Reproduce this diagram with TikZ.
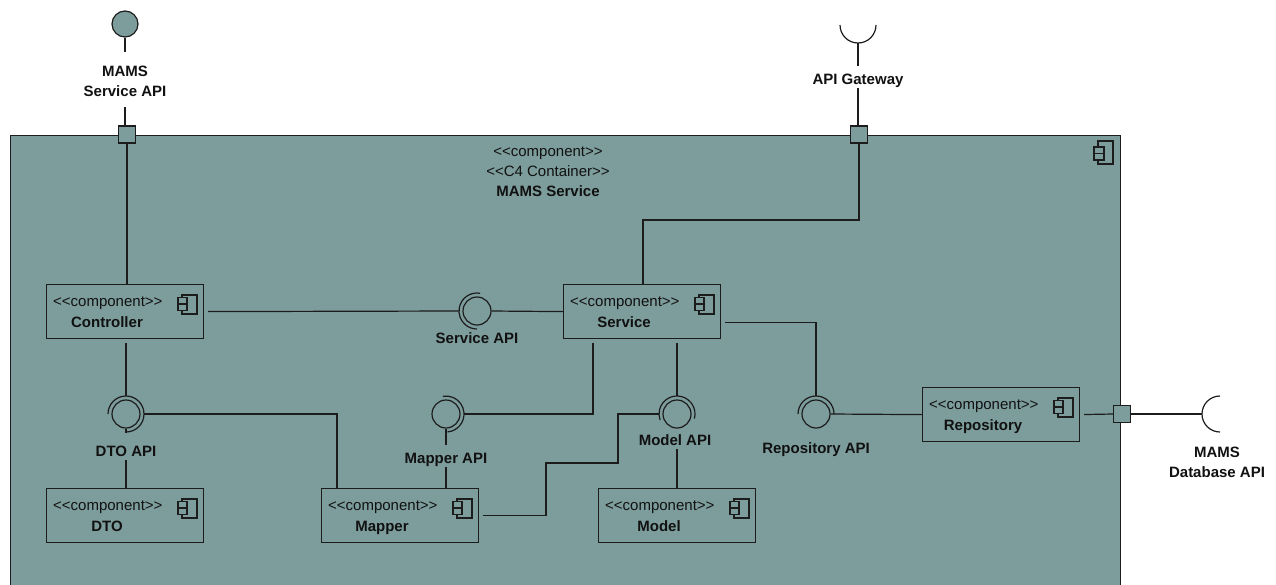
\documentclass[tikz,border=0pt]{standalone}
\usepackage{fontspec}
\setmainfont{Liberation Sans}[Ligatures=TeXOff]
\definecolor{cfill}{HTML}{7D9D9C}
\definecolor{lnc}{HTML}{1C1C1C}
\definecolor{txc}{HTML}{111111}
\tikzset{
  ln/.style={draw=lnc, line width=1.2pt},
  cont/.style={draw=lnc, line width=1.2pt, fill=cfill, anchor=north west, minimum width=1110pt, minimum height=480pt, inner sep=0pt},
  compbox/.style={draw=lnc, line width=1.2pt, fill=cfill, minimum width=157pt, minimum height=54pt, inner sep=0pt, anchor=north west},
  ball/.style={circle, draw=lnc, line width=1.2pt, fill=cfill, minimum size=28pt, inner sep=0pt},
  port/.style={rectangle, draw=lnc, line width=1.2pt, fill=cfill, minimum size=17pt, inner sep=0pt},
  ster/.style={font=\fontsize{15}{18}\selectfont, inner sep=0pt, anchor=base west, text=txc},
  nm/.style={font=\bfseries\fontsize{15}{18}\selectfont, inner sep=0pt, anchor=base, text=txc},
  ilbl/.style={font=\bfseries\fontsize{15}{18}\selectfont, inner xsep=2pt, inner ysep=0pt, text height=18pt, text depth=3.5pt, anchor=base, text=txc},
  cicon/.pic={
    \draw[ln, line width=1.1pt, fill=cfill] (4,0) rectangle (19,19);
    \draw[ln, line width=1.1pt, fill=cfill] (0,2.5) rectangle (9,9);
    \draw[ln, line width=1.1pt, fill=cfill] (0,9) rectangle (9,15.5);
  }
}
\newcommand{\umlcomp}[4]{%
  \node[compbox] (#1) at (#2,#3) {};
  \node[ster] (#1s) at ([shift={(7,22)}]#1.north west) {<<component>>};
  \node[nm] (#1n) at ([shift={(61,43)}]#1.north west) {#4};
  \pic at ([shift={(132,11)}]#1.north west) {cicon};
}
\begin{document}
\begin{tikzpicture}[x=1pt,y=-1pt]
\clip (0,0) rectangle (1276,584);
\fill[white] (0,0) rectangle (1276,584);
% container
\node[cont] (cont) at (10,135) {};
\node[ster, anchor=base] (ct1) at (548,156) {<<component>>};
\node[ster, anchor=base] (ct2) at (548,176) {<<C4 Container>>};
\node[nm] (ct3) at (548,196) {MAMS Service};
\draw[ln, line width=1.1pt, fill=cfill] (1098,141) rectangle (1113,164);
\draw[ln, line width=1.1pt, fill=cfill] (1094,147) rectangle (1104,153.5);
\draw[ln, line width=1.1pt, fill=cfill] (1094,153.5) rectangle (1104,160);
% components
\umlcomp{ctrl}{46}{284}{Controller}
\umlcomp{svc}{563}{284}{Service}
\umlcomp{dto}{46}{488}{DTO}
\umlcomp{mapper}{321}{488}{Mapper}
\umlcomp{model}{598}{488}{Model}
\umlcomp{repo}{922}{387}{Repository}
% ports
\node[port] (p1) at (127,134.5) {};
\node[port] (p2) at (859,134.5) {};
\node[port] (p3) at (1122,414) {};
% external provided interface
\node[ball, minimum size=26pt] (extball) at (125,24) {};
\node[ilbl] (mams1) at (125,76.1) {MAMS};
\node[ilbl] (mams2) at (125,96.1) {Service API};
\draw[ln, shorten >=6pt] (extball.south) -- (mams1.north);
\draw[ln, shorten <=7.5pt] (mams2.south) -- (mams2.south |- p1.north);
% external required interface: API Gateway
\coordinate (gwc) at (858,25);
\draw[ln] ([xshift=-18pt]gwc) arc[start angle=180, end angle=360, radius=18pt];
\node[ilbl] (gwl) at (858,84.4) {API Gateway};
\draw[ln] ([yshift=-18pt]gwc) -- (gwl.north);
\draw[ln] (gwl.south) -- (gwl.south |- p2.north);
% internal interfaces
\node[ball] (dtoI) at (126,414) {};
\draw[ln] ([shift={(-90:18pt)}]dtoI.center) arc[start angle=-90, end angle=180, radius=18pt];
\node[ball] (svI) at (477,311) {};
\draw[ln] ([shift={(80:18pt)}]svI.center) arc[start angle=80, end angle=270, radius=18pt];
\node[ball] (mapI) at (446,414) {};
\draw[ln] ([shift={(-85:18pt)}]mapI.center) arc[start angle=-85, end angle=100, radius=18pt];
\node[ball] (modI) at (677,414) {};
\draw[ln] ([shift={(-15:18pt)}]modI.center) arc[start angle=-15, end angle=200, radius=18pt];
\node[ball] (repI) at (816,414) {};
\draw[ln] ([shift={(0:18pt)}]repI.center) arc[start angle=0, end angle=180, radius=18pt];
\node[ilbl] (dtoL) at (126,456.4) {DTO API};
\node[ilbl] (svL) at (477,343.4) {Service API};
\node[ilbl] (mapL) at (446,463.4) {Mapper API};
\node[ilbl] (modL) at (675,445.4) {Model API};
\node[ilbl] (repL) at (816,453.4) {Repository API};
% connectors
\coordinate (gwbend) at (643,220);
\draw[ln] (p1.south) -- (p1.south |- ctrl.north);
\draw[ln] (p2.south) |- (gwbend) -- (gwbend |- svc.north);
\draw[ln, shorten <=4pt] (ctrl.east) -- ([xshift=-18pt]svI.center);
\draw[ln] (svI.east) -- (svc.west);
\draw[ln, shorten <=4pt] (dtoI |- ctrl.south) -- ([yshift=18pt]dtoI.center);
\draw[ln, shorten >=5pt] (dtoI.south) -- (dtoL.north);
\draw[ln] (dtoL.south) -- (dtoL.south |- dto.north);
\draw[ln] ([xshift=18pt]dtoI.center) -| ([xshift=16pt]mapper.north west);
\draw[ln, shorten <=4pt] ([xshift=30pt]svc.south west) |- ([xshift=18pt]mapI.center);
\draw[ln] (mapI.south) -- (mapL.north);
\draw[ln] (mapL.south) -- (mapL.south |- mapper.north);
\draw[ln, shorten <=4pt] (modI |- svc.south) -- ([yshift=18pt]modI.center);
\draw[ln] (modI |- modL.south) -- (modI |- model.north);
\draw[ln, shorten <=4pt] (mapper.east) -| (546,463) -| (618,414) -- ([xshift=-18pt]modI.center);
\draw[ln, shorten <=4pt] ([yshift=-11pt]svc.east) -| ([yshift=18pt]repI.center);
\draw[ln] (repI.east) -- (repo.west);
\draw[ln, shorten <=4pt] (repo.east) -- (p3.west);
% external required interface: database
\coordinate (dbc) at (1220,414);
\draw[ln] (p3.east) -- ([xshift=-18pt]dbc);
\draw[ln] ([yshift=18pt]dbc) arc[start angle=90, end angle=270, radius=18pt];
\node[ilbl] (db1) at (1217,457.4) {MAMS};
\node[ilbl] (db2) at (1217,477.4) {Database API};
\end{tikzpicture}
\end{document}
